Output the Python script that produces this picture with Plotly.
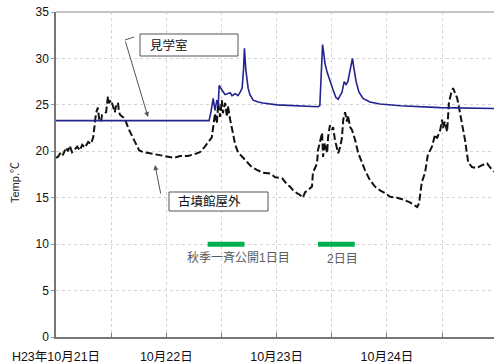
import plotly.graph_objects as go

# Hours elapsed since 2011-10-21 00:00
room_hours = [0, 33.3, 33.7, 34.2, 34.6, 35.0, 35.3, 35.5, 36.1, 36.8, 37.9, 38.3, 39.0, 39.6,
              40.1, 40.5, 40.8, 41.0, 41.3, 41.8, 42.2, 42.9, 44.0, 45.0, 48.1, 53.1, 57.0,
              57.4, 57.7, 58.0, 58.3, 58.5, 59.0, 59.6, 60.3, 60.9, 61.4, 61.8, 62.2, 62.7,
              63.1, 63.5, 64.0, 64.5, 64.8, 65.3, 65.9, 66.8, 68.3, 70.5, 74.9, 79.2, 83.6, 95.3]
room_temp = [23.3, 23.3, 24.2, 25.7, 24.4, 25.5, 25.0, 27.1, 26.6, 26.1, 26.3, 26.0, 26.2, 26.0,
             26.4, 26.8, 28.8, 31.1, 28.8, 26.8, 26.1, 25.5, 25.3, 25.2, 25.0, 24.9, 24.8,
             24.9, 27.7, 31.5, 30.4, 29.5, 28.5, 27.5, 26.6, 25.8, 25.6, 26.0, 26.3, 27.5,
             27.2, 27.5, 28.8, 30.0, 29.0, 27.5, 26.4, 25.7, 25.3, 25.1, 24.9, 24.8, 24.7, 24.6]

outdoor_hours = [0, 0.4, 1.1, 1.5, 2.2, 2.6, 3.0, 3.5, 4.1, 4.6, 5.2, 5.7, 6.3, 7.0, 7.6, 8.1,
                 8.7, 9.1, 9.4, 9.8, 10.0, 10.9, 11.3, 11.5, 12.0, 12.4, 12.8, 13.1, 13.5,
                 13.7, 14.0, 14.8, 15.2, 15.9, 16.8, 17.4, 18.1, 19.1, 20.2, 21.8, 23.9, 25.7,
                 27.0, 28.7, 30.2, 31.3, 32.4, 33.1, 33.9, 34.2, 34.6, 35.0, 35.3, 35.7, 36.1,
                 36.3, 36.8, 37.2, 37.4, 37.9, 38.3, 39.0, 39.6, 40.5, 41.6, 42.6, 43.7, 45.0,
                 46.6, 47.7, 49.2, 50.3, 50.9, 51.6, 52.4, 53.1, 53.7, 54.2, 54.8, 55.7, 55.9,
                 56.8, 57.0, 57.4, 57.9, 58.1, 58.5, 59.0, 59.2, 59.6, 60.1, 60.3, 60.7, 61.4,
                 61.8, 62.2, 62.5, 62.9, 63.3, 63.5, 64.0, 64.4, 65.1, 65.7, 66.6, 67.2, 68.3,
                 69.4, 70.5, 71.6, 72.7, 74.2, 75.5, 77.0, 78.6, 79.0, 79.6, 80.3, 80.9, 81.8,
                 82.5, 82.9, 83.6, 84.0, 84.2, 84.6, 85.1, 85.3, 85.5, 86.0, 86.4, 86.8, 87.3,
                 87.5, 87.9, 88.6, 89.0, 89.4, 89.7, 90.5, 91.6, 92.7, 93.8, 94.4, 95.3]
outdoor_temp = [19.3, 19.4, 19.9, 19.6, 20.4, 20.0, 20.6, 19.9, 20.2, 20.5, 20.1, 20.7, 20.4,
                21.0, 20.8, 21.5, 24.1, 24.7, 23.4, 23.2, 23.9, 24.2, 25.9, 25.2, 25.5, 24.7,
                24.2, 25.0, 25.2, 24.2, 23.9, 23.6, 23.2, 22.3, 21.4, 20.7, 20.1, 19.9, 19.8,
                19.6, 19.4, 19.3, 19.5, 19.5, 19.7, 19.9, 20.5, 21.0, 21.5, 22.6, 24.1, 23.0,
                25.2, 23.7, 25.5, 24.1, 25.2, 23.7, 24.9, 23.4, 22.3, 20.7, 19.9, 19.4, 18.8,
                18.3, 18.0, 17.7, 17.6, 17.2, 17.1, 16.4, 16.2, 15.8, 15.5, 15.3, 15.0, 15.6,
                15.8, 16.2, 17.7, 18.7, 20.1, 20.9, 22.0, 19.4, 20.9, 19.8, 21.5, 22.8, 22.3,
                22.6, 21.2, 19.8, 20.4, 21.4, 23.4, 24.2, 23.2, 23.9, 22.6, 22.3, 21.2, 19.9,
                18.8, 18.0, 16.9, 16.2, 15.8, 15.5, 15.1, 15.0, 14.8, 14.5, 14.0, 14.4, 16.7,
                17.7, 19.6, 20.5, 21.8, 21.4, 22.3, 23.4, 22.5, 23.2, 22.1, 24.2, 25.3, 26.3,
                26.8, 26.3, 25.7, 25.2, 24.1, 22.6, 21.2, 19.8, 18.8, 18.3, 18.2, 18.5, 18.7,
                18.3, 17.8]

# Public open days (hours since start) and the level at which they are marked
event_start = [33, 57]
event_end = [41, 65]
event_level = 10
event_labels = ["秋季一斉公開1日目", "2日目"]

day_ticks = [0, 24, 48, 72]
day_labels = ["H23年10月21日", "10月22日", "10月23日", "10月24日"]

W, H = 494, 364
L, R, T, B = 56, 0, 12, 27
PW, PH = W - L - R, H - T - B


def px(x):
    return (x - L) / PW


def py(y):
    return (T + PH - y) / PH


FONT = "Liberation Sans, Arial, Noto Sans CJK JP, sans-serif"

fig = go.Figure()

fig.add_trace(go.Scatter(x=outdoor_hours, y=outdoor_temp, mode="lines",
                         line=dict(color="#111111", width=2, dash="7px,3px"),
                         name="古墳館屋外", hoverinfo="skip"))
fig.add_trace(go.Scatter(x=room_hours, y=room_temp, mode="lines",
                         line=dict(color="#23238f", width=1.6),
                         name="見学室", hoverinfo="skip"))

for s, e in zip(event_start, event_end):
    fig.add_trace(go.Scatter(x=[s, e], y=[event_level, event_level], mode="lines",
                             line=dict(color="#00b050", width=5), hoverinfo="skip"))

shapes = [
    # top frame line
    dict(type="line", xref="paper", yref="paper", x0=0, x1=1, y0=1, y1=1,
         line=dict(color="#c4c4c4", width=2)),
    # label boxes
    dict(type="rect", xref="paper", yref="paper", x0=px(140), x1=px(238), y0=py(56), y1=py(34),
         line=dict(color="#555555", width=1), fillcolor="white"),
    dict(type="rect", xref="paper", yref="paper", x0=px(169), x1=px(268), y0=py(211), y1=py(192),
         line=dict(color="#555555", width=1), fillcolor="white"),
    # short leader stub of the room arrow
    dict(type="line", xref="paper", yref="paper", x0=px(125), x1=px(134), y0=py(40), y1=py(37),
         line=dict(color="#555555", width=1)),
]

annotations = [
    dict(xref="paper", yref="paper", x=px(148), y=py(45), text="見学室", showarrow=False,
         xanchor="left", yanchor="middle", font=dict(family=FONT, size=12.5, color="#111111")),
    dict(xref="paper", yref="paper", x=px(176), y=py(201.5), text="古墳館屋外", showarrow=False,
         xanchor="left", yanchor="middle", font=dict(family=FONT, size=12.5, color="#111111")),
    dict(xref="paper", yref="paper", x=px(148), y=py(117), text="", showarrow=True,
         ax=-23, ay=-77, arrowhead=2, arrowsize=1, arrowwidth=1, arrowcolor="#555555"),
    dict(xref="paper", yref="paper", x=px(155), y=py(165), text="", showarrow=True,
         ax=6, ay=30, arrowhead=2, arrowsize=1, arrowwidth=1, arrowcolor="#555555"),
    dict(xref="paper", yref="paper", x=px(185), y=py(258), text=event_labels[0], showarrow=False,
         xanchor="left", yanchor="middle", font=dict(family=FONT, size=12, color="#5a5a5a")),
    dict(xref="paper", yref="paper", x=px(325), y=py(259), text=event_labels[1], showarrow=False,
         xanchor="left", yanchor="middle", font=dict(family=FONT, size=12, color="#5a5a5a")),
    dict(xref="paper", yref="paper", x=px(15), y=py(183), text="Temp.℃", showarrow=False,
         textangle=-90, xanchor="center", yanchor="middle",
         font=dict(family=FONT, size=11, color="#222222")),
]

fig.update_layout(
    width=W, height=H,
    margin=dict(l=L, r=R, t=T, b=B, pad=0),
    paper_bgcolor="white", plot_bgcolor="white",
    showlegend=False,
    shapes=shapes, annotations=annotations,
    font=dict(family=FONT, size=11, color="#111111"),
)

fig.update_xaxes(
    range=[0, 95.3], tickvals=day_ticks, ticktext=day_labels,
    showgrid=True, gridcolor="#d4d4d4", griddash="dot", gridwidth=1,
    showline=True, linecolor="#777777", linewidth=1.5,
    ticks="inside", ticklen=4, tickcolor="#777777",
    minor=dict(dtick=12, tick0=0, showgrid=True, gridcolor="#d4d4d4", griddash="dot",
               ticks="inside", ticklen=4, tickcolor="#777777"),
    tickfont=dict(family=FONT, size=12.5, color="#111111"),
    ticklabelstandoff=7,
    zeroline=False, fixedrange=True,
)
fig.update_yaxes(
    range=[0, 35], dtick=5, tick0=0,
    showgrid=True, gridcolor="#d4d4d4", griddash="dot", gridwidth=1,
    showline=True, linecolor="#777777", linewidth=1.5,
    ticks="outside", ticklen=3, tickcolor="#999999",
    tickfont=dict(family=FONT, size=12, color="#111111"),
    zeroline=False, fixedrange=True,
)

fig.write_html("out.html")
